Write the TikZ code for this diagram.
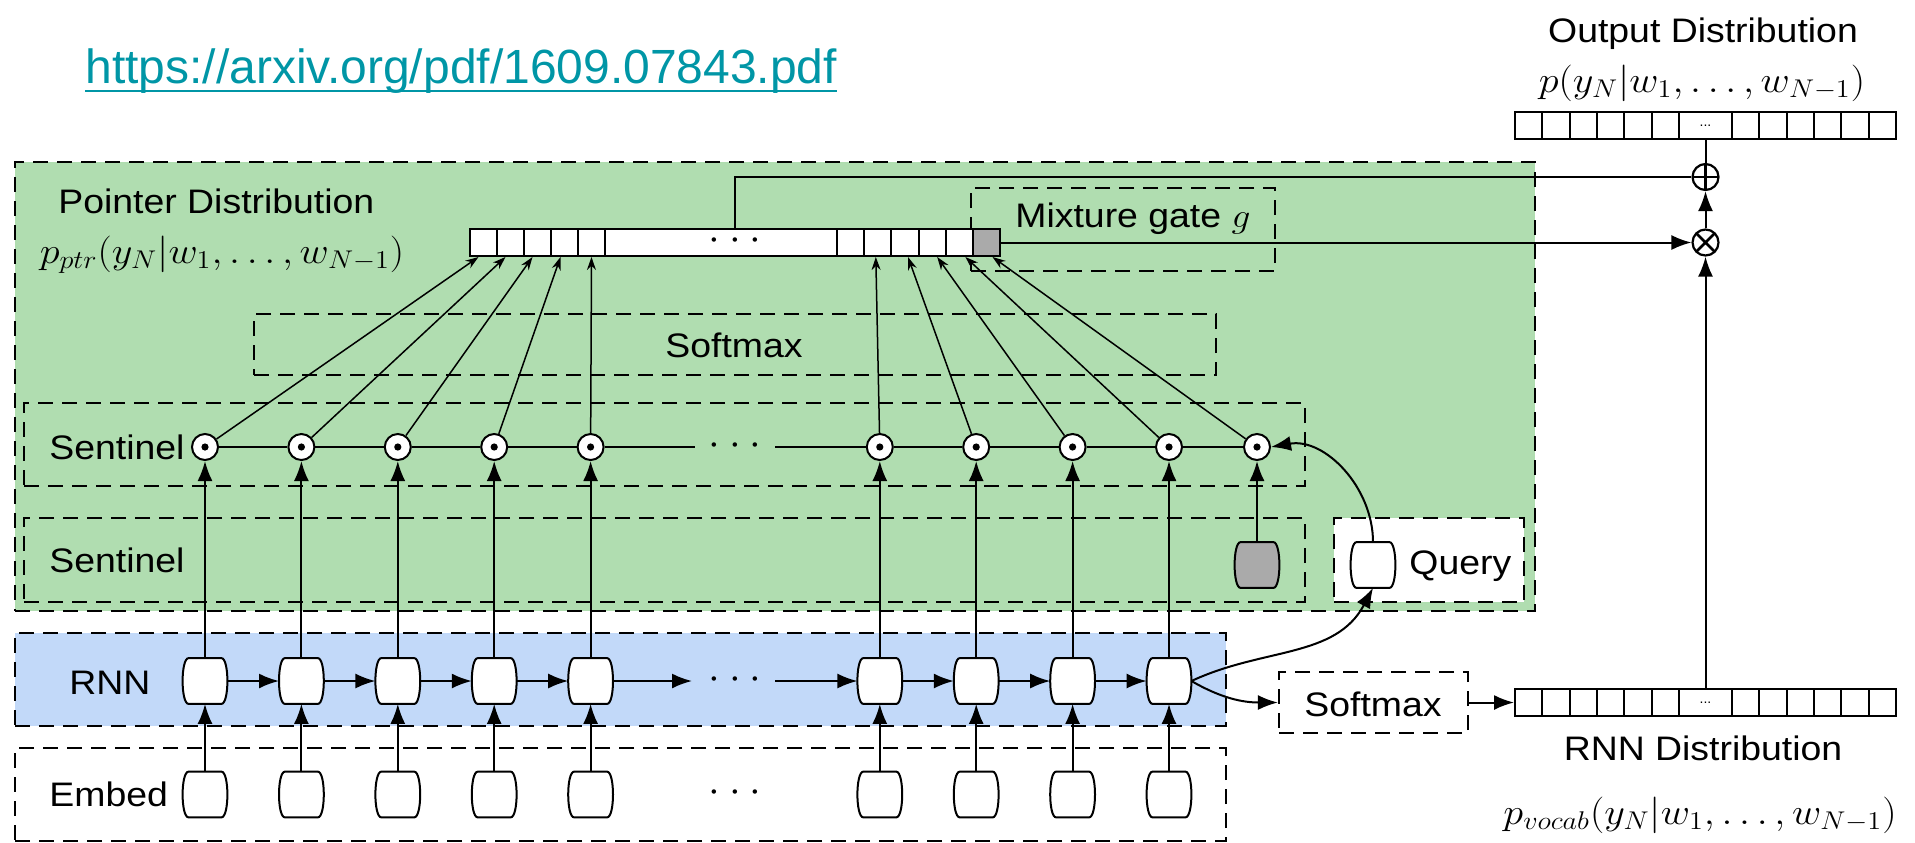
\RequirePackage{fix-cm}
\documentclass[tikz,border=0pt]{standalone}
\usepackage[no-math]{fontspec}
\setmainfont{Liberation Sans}
\newfontfamily\lblfont{Liberation Sans}[FakeStretch=1.1]
\usetikzlibrary{arrows.meta,calc,fit}
\definecolor{ptrgreen}{RGB}{176,221,176}
\definecolor{rnnblue}{RGB}{194,217,249}
\definecolor{linkteal}{RGB}{0,150,166}
\definecolor{gatefill}{RGB}{170,170,170}
\newcommand\threedots{$\cdot$\hspace{4.5pt}$\cdot$\hspace{4.5pt}$\cdot$}
\newcommand\stretchmath[1]{\scalebox{1.1}[1]{$#1$}}
% barrel outline of a recurrent cell, drawn round a named node
\newcommand\cellpath[2][white]{%
  \draw[line width=1pt, fill=#1]
    ($(#2.north west)+(6,0)$) -- ($(#2.north east)+(-6,0)$)
    .. controls ($(#2.north east)+(2,0)$) and ($(#2.south east)+(2,0)$) .. ($(#2.south east)+(-6,0)$)
    -- ($(#2.south west)+(6,0)$)
    .. controls ($(#2.south west)+(-2,0)$) and ($(#2.north west)+(-2,0)$) .. cycle;}

\tikzset{
  lbl/.style={font=\lblfont\fontsize{17}{20}\selectfont, inner sep=0pt},
  mlbl/.style={font=\fontsize{18.3}{22}\selectfont, inner sep=0pt},
  dotsl/.style={font=\fontsize{21}{24}\selectfont, inner sep=0pt},
  dbox/.style={draw, dash pattern=on 7.5pt off 4.5pt, line width=1.1pt, inner sep=0pt},
  cellbox/.style={rectangle, minimum width=22pt, minimum height=22.5pt, inner sep=0pt},
  dotc/.style={draw, circle, fill=white, line width=1pt, minimum size=13pt, inner sep=0pt,
    path picture={\fill[black] (path picture bounding box.center) circle (1.8pt);}},
  opc/.style={draw, circle, fill=white, line width=1.1pt, minimum size=13pt, inner sep=0pt},
  plusc/.style={opc, path picture={\draw[black, line width=1.3pt]
    (path picture bounding box.north) -- (path picture bounding box.south)
    (path picture bounding box.west) -- (path picture bounding box.east);}},
  timesc/.style={opc, path picture={\draw[black, line width=1.3pt]
    (path picture bounding box.north west) -- (path picture bounding box.south east)
    (path picture bounding box.north east) -- (path picture bounding box.south west);}},
  arr/.style={-{Latex[length=10pt,width=7.5pt]}, line width=1pt},
  thinarr/.style={-{Stealth[length=6.5pt,width=4.5pt]}, line width=0.75pt},
  ln/.style={line width=1pt},
  barcell/.style={draw, line width=1pt, fill=white, minimum height=13.5pt, inner sep=0pt},
}

\begin{document}
\begin{tikzpicture}[x=0.5pt,y=-0.5pt]
\useasboundingbox (0,0) rectangle (1915,842);

% link
\node[anchor=base west, inner sep=0pt, text=linkteal, font=\fontsize{24}{28}\selectfont]
  (link) at (85,83) {https://arxiv.org/pdf/1609.07843.pdf};
\draw[linkteal, line width=1.4pt] ($(link.base west)+(0,8)$) -- ($(link.base east)+(0,8)$);

% regions
\node[dbox, fill=ptrgreen, fit={(15,162)(1535,611)}] (ptrbox) {};
\node[dbox, fill=rnnblue, fit={(15,633)(1226,726)}] (rnnbox) {};
\node[dbox, fit={(15,748)(1226,841)}] (embbox) {};
\node[dbox, fit={(254,314)(1216,375)}] (smbox) {};
\node[dbox, fit={(971,188)(1275,271)}] (mixbox) {};
\node[dbox, fit={(24,403)(1305,486)}] (senabox) {};
\node[dbox, fit={(24,518)(1305,602)}] (senbbox) {};
\node[dbox, fill=white, fit={(1334,518)(1524,602)}] (qbox) {};
\node[dbox, fit={(1279,672)(1468,733)}] (smx) {};

% labels
\node[lbl, anchor=base west] (ptrlbl) at (58,213) {Pointer Distribution};
\node[mlbl] (pptr) at (222,255) {\stretchmath{p_{ptr}(y_N|w_1,\ldots,w_{N-1})}};
\node[lbl, anchor=base] (outlbl) at (1703,42) {Output Distribution};
\node[mlbl] (pout) at (1702,83) {\stretchmath{p(y_N|w_1,\ldots,w_{N-1})}};
\node[lbl, anchor=base] (rnndlbl) at (1703,760) {RNN Distribution};
\node[mlbl] (pvocab) at (1700,815) {\stretchmath{p_{vocab}(y_N|w_1,\ldots,w_{N-1})}};
\node[lbl, anchor=base west] (mixlbl) at (1015,227) {Mixture gate \stretchmath{g}};
\node[lbl, anchor=base] (smlbl) at (734,357) {Softmax};
\node[lbl, anchor=base west] (senalbl) at (49,459) {Sentinel};
\node[lbl, anchor=base west] (senblbl) at (49,572) {Sentinel};
\node[lbl, anchor=base] (rnnlbl) at (110,694) {RNN};
\node[lbl, anchor=base west] (emblbl) at (49,806) {Embed};
\node[lbl, anchor=base west] (qlbl) at (1409,574) {Query};
\node[lbl, anchor=base] (smxlbl) at (1373,716) {Softmax};

% pointer distribution bar
\foreach \i in {1,...,5}
  \node[barcell, minimum width=13.5pt] (pl\i) at ({470+27*\i-13.5},242.5) {};
\node[barcell, minimum width=116pt] (pm) at (721,242.5) {};
\node[dotsl] (pmdots) at (735,241) {\threedots};
\foreach \i in {1,...,5}
  \node[barcell, minimum width=13.6pt] (pr\i) at ({837+27.2*\i-13.6},242.5) {};
\node[barcell, minimum width=13.5pt, fill=gatefill] (pg) at (986.5,242.5) {};

% output distribution bar
\foreach \i in {0,...,5}
  \node[barcell, minimum width=13.65pt] (oa\i) at ({1528.65+27.3*\i},125.5) {};
\node[barcell, minimum width=26.5pt, font=\fontsize{7}{8}\selectfont] (od) at (1705.5,125.5) {...};
\foreach \i in {0,...,5}
  \node[barcell, minimum width=13.65pt] (ob\i) at ({1745.65+27.3*\i},125.5) {};

% RNN distribution bar
\foreach \i in {0,...,5}
  \node[barcell, minimum width=13.65pt] (va\i) at ({1528.65+27.3*\i},702.5) {};
\node[barcell, minimum width=26.5pt, font=\fontsize{7}{8}\selectfont] (vd) at (1705.5,702.5) {...};
\foreach \i in {0,...,5}
  \node[barcell, minimum width=13.65pt] (vb\i) at ({1745.65+27.3*\i},702.5) {};

% mixing operators
\node[plusc] (plus) at (1705.5,177) {};
\node[timesc] (times) at (1705.5,242.5) {};

% recurrent cells, embeddings and attention products
\foreach \k in {0,1,2,3,4,7,8,9,10} {
  \node[cellbox] (r\k) at ({205+96.4*\k},681) {};
  \cellpath{r\k}
  \node[cellbox] (e\k) at ({205+96.4*\k},794.5) {};
  \cellpath{e\k}
  \node[dotc] (c\k) at ({205+96.4*\k},447) {};
}
\node[dotc] (cs) at (1257,447) {};
\node[cellbox] (gs) at (1257,565) {};
\cellpath[gatefill]{gs}
\node[cellbox] (qc) at (1373,565) {};
\cellpath{qc}

% ellipses in the rows
\node[dotsl] (sdots) at (735,446) {\threedots};
\node[dotsl] (rdots) at (735,680) {\threedots};
\node[dotsl] (edots) at (735,793) {\threedots};
\coordinate (sdl) at (695,447);
\coordinate (sdr) at (775,447);
\coordinate (rdl) at (692,681);
\coordinate (rdr) at (775,681);

% sentinel chain
\draw[ln] (c0) -- (c1) -- (c2) -- (c3) -- (c4) -- (sdl);
\draw[ln] (sdr) -- (c7) -- (c8) -- (c9) -- (c10) -- (cs);

% recurrence
\foreach \a/\b in {0/1,1/2,2/3,3/4,7/8,8/9,9/10}
  \draw[arr] (r\a) -- (r\b);
\draw[arr] (r4) -- (rdl);
\draw[arr] (rdr) -- (r7);

% vertical flows
\foreach \k in {0,1,2,3,4,7,8,9,10} {
  \draw[arr] (e\k.north) -- (r\k.south);
  \draw[arr] (r\k.north) -- (c\k.south);
}
\draw[arr] (gs.north) -- (cs.south);

% scores into the pointer distribution
\draw[thinarr] (c0) -- ($(pl1.south)+(-5,0)$);
\draw[thinarr] (c1) -- ($(pl2.south)+(-5,0)$);
\draw[thinarr] (c2) -- ($(pl3.south)+(-5,0)$);
\draw[thinarr] (c3) -- ($(pl4.south)+(-4,0)$);
\draw[thinarr] (c4) -- (pl5.south);
\draw[thinarr] (c7) -- ($(pr2.south)+(-2,0)$);
\draw[thinarr] (c8) -- ($(pr3.south)+(3,0)$);
\draw[thinarr] (c9) -- ($(pr4.south)+(5,0)$);
\draw[thinarr] (c10) -- ($(pr5.south)+(6,0)$);
\draw[thinarr] (cs) -- ($(pg.south)+(6,0)$);

% query
\draw[arr] (qc.north) to[out=90,in=10] (cs.east);
\draw[arr] (r10.east) to[out=25,in=-118] (qc.south);
\draw[arr] (r10.east) to[out=-30,in=180] (smx.west);
\draw[arr] (smx.east) -- (va0.west);

% mixture
\draw[ln] ($(pm.north)+(14,0)$) |- (plus.west);
\draw[arr] (pg.east) -- (times.west);
\draw[arr] (times.north) -- (plus.south);
\draw[arr] (vd.north) -- (times.south);
\draw[ln] (plus.north) -- (od.south);
\end{tikzpicture}
\end{document}
